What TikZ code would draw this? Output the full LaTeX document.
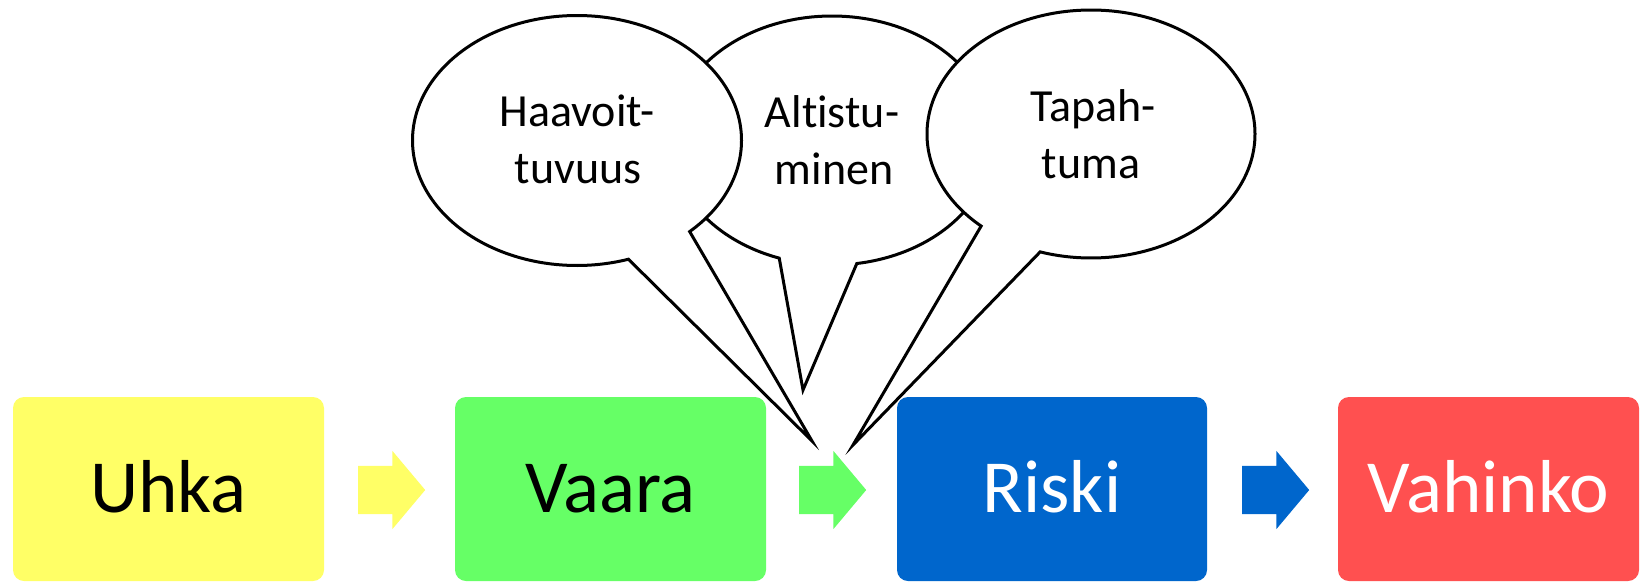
\documentclass[tikz,border=0pt]{standalone}
\usepackage{fontspec}
\setmainfont{Carlito}[Ligatures={NoCommon}]
\usetikzlibrary{shapes.callouts,shapes.arrows}
\definecolor{cyellow}{HTML}{FFFF66}
\definecolor{cgreen}{HTML}{66FF66}
\definecolor{cblue}{HTML}{0066CC}
\definecolor{cred}{HTML}{FF5050}
\begin{document}
\begin{tikzpicture}[x=1pt,y=-1pt,
  stage/.style={rounded corners=11pt, minimum height=184pt, inner sep=0pt,
    text height=46pt, text depth=0pt, font=\fontsize{75}{90}\selectfont},
  blockarrow/.style={single arrow, inner xsep=0pt, inner ysep=24pt, anchor=tail,
    single arrow head extend=15pt, minimum height=67pt, single arrow tip angle=100},
  bubble/.style={ellipse callout, draw=black, line width=3pt, fill=white, inner sep=0pt},
  btext/.style={anchor=base, font=\fontsize{46}{55}\selectfont, inner sep=0pt}
]
\useasboundingbox (0,0) rectangle (1642,582);

% stages
\node[stage, fill=cyellow, minimum width=311pt] (uhka) at (168.5,489) {Uhka};
\node[stage, fill=cgreen, minimum width=311pt] (vaara) at (610.5,489) {Vaara};
\node[stage, fill=cblue, text=white, minimum width=310pt] (riski) at (1052,489) {Riski};
\node[stage, fill=cred, text=white, minimum width=301pt] (vahinko) at (1488.5,489) {Vahinko};

% block arrows
\node[blockarrow, fill=cyellow] (a1) at (358,490) {};
\node[blockarrow, fill=cgreen] (a2) at (799,490) {};
\node[blockarrow, fill=cblue] (a3) at (1242,490) {};

% callout tips
\coordinate (tipA) at (812,441);
\coordinate (tipB) at (803,390);
\coordinate (tipC) at (853,445);

% callouts
\node[bubble, minimum width=322pt, minimum height=249pt,
  callout absolute pointer={(tipB)}, callout pointer arc=28] (altis) at (832,140.5) {};
\node[bubble, minimum width=329pt, minimum height=250pt,
  callout absolute pointer={(tipA)}, callout pointer arc=25] (haav) at (577,140.5) {};
\node[bubble, minimum width=328pt, minimum height=248pt,
  callout absolute pointer={(tipC)}, callout pointer arc=24] (tapah) at (1091,134) {};

% callout texts
\node[btext] (haav1) at (577,126) {Haavoit-};
\node[btext] (haav2) at (578,183) {tuvuus};
\node[btext] (altis1) at (832,127) {Altistu-};
\node[btext] (altis2) at (834,184) {minen};
\node[btext] (tapah1) at (1093,121) {Tapah-};
\node[btext] (tapah2) at (1091,178) {tuma};
\end{tikzpicture}
\end{document}
